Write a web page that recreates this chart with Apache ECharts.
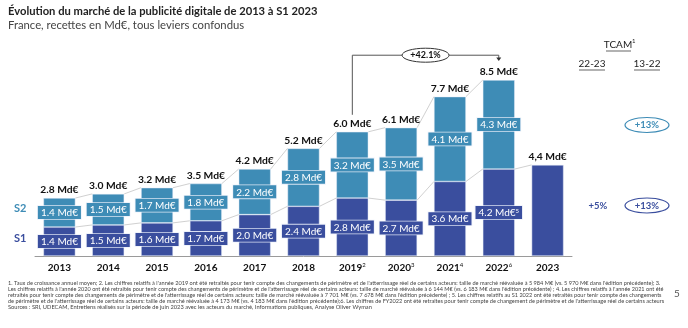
<!DOCTYPE html>
<html><head><meta charset="utf-8">
<script src="https://cdn.jsdelivr.net/npm/echarts@6/dist/echarts.min.js"></script>
<style>html,body{margin:0;padding:0;background:#fff}#c{width:688px;height:328px}</style>
</head><body><div id="c"></div>
<script>
const years = ['2013','2014','2015','2016','2017','2018','2019','2020','2021','2022','2023'];
const yearNotes = ['','','','','','','2','3','4','6',''];
const s1 = [1.4,1.5,1.6,1.7,2.0,2.4,2.8,2.7,3.6,4.2,4.4];
const s2 = [1.4,1.5,1.7,1.8,2.2,2.8,3.2,3.5,4.1,4.3,null];
const s1Labels = ['1.4 Md€','1.5 Md€','1.6 Md€','1.7 Md€','2.0 Md€','2.4 Md€','2.8 Md€','2.7 Md€','3.6 Md€','4.2 Md€',''];
const s1Notes = ['','','','','','','','','','5',''];
const s2Labels = ['1.4 Md€','1.5 Md€','1.7 Md€','1.8 Md€','2.2 Md€','2.8 Md€','3.2 Md€','3.5 Md€','4.1 Md€','4.3 Md€',''];
const totalLabels = ['2.8 Md€','3.0 Md€','3.2 Md€','3.5 Md€','4.2 Md€','5.2 Md€','6.0 Md€','6.1 Md€','7.7 Md€','8.5 Md€','4,4 Md€'];
const growthLabel = '+42.1%';
const growthFrom = 6, growthTo = 9;
const tcamHeaders = ['TCAM', '22-23', '13-22'];
const tcamS2 = ['', '+13%'];
const tcamS1 = ['+5%', '+13%'];

const C1 = '#3A4E9E', C2 = '#3E8CB6';
const FONT = 'Lato, "Liberation Sans", sans-serif';
const footnotes = [
"1. Taux de croissance annuel moyen; 2. Les chiffres relatifs à l'année 2019 ont été retraités pour tenir compte des changements de périmètre et de l'atterrissage réel de certains acteurs: taille de marché réévaluée à 5 984 M€ (vs. 5 970 M€ dans l'édition précédente); 3.",
"Les chiffres relatifs à l'année 2020 ont été retraités pour tenir compte des changements de périmètre et de l'atterrissage réel de certains acteurs: taille de marché réévaluée à 6 144 M€ (vs. 6 183 M€ dans l'édition précédente) ; 4. Les chiffres relatifs à l'année 2021 ont été",
"retraités pour tenir compte des changements de périmètre et de l'atterrissage réel de certains acteurs: taille de marché réévaluée à 7 701 M€ (vs. 7 678 M€ dans l'édition précédente) ; 5. Les chiffres relatifs au S1 2022 ont été retraités pour tenir compte des changements",
"de périmètre et de l'atterrissage réel de certains acteurs: taille de marché réévaluée à 4 173 M€ (vs. 4 183 M€ dans l'édition précédente);6. Les chiffres de FY2022 ont été retraites pour tenir compte de changement de périmètre et de l'atterrissage réel de certains acteurs",
"Sources : SRI, UDECAM, Entretiens réalisés sur la période de juin 2023 avec les acteurs du marché, Informations publiques, Analyse Oliver Wyman"
];
const footnoteWidths = [654, 656, 654, 656, 364];

const tops = years.map((_, i) => (s1[i] || 0) + (s2[i] || 0));
const BARW = 32;

const chart = echarts.init(document.getElementById('c'), null, {renderer: 'canvas'});

const connectorData = years.slice(0, years.length - 1).map((_, i) => [
  i, tops[i], (s2[i + 1] != null && s2[i] != null) ? tops[i + 1] : NaN, s1[i], s1[i + 1]
]);

const labelBox = (c) => ({
  show: true, position: 'inside', color: '#fff', fontSize: 10, fontFamily: FONT,
  backgroundColor: c, borderColor: 'rgba(235,240,250,0.9)', borderWidth: 0.8, padding: [2, 3, 1, 3],
  rich: { s: { fontSize: 6, color: '#fff', verticalAlign: 'top', lineHeight: 10, fontFamily: FONT } }
});

const graphics = [
  {type: 'text', left: 8, top: 6, style: {text: 'Évolution du marché de la publicité digitale de 2013 à S1 2023', font: 'bold 11.2px ' + FONT, fill: '#222'}},
  {type: 'text', left: 8, top: 20, style: {text: 'France, recettes en Md€, tous leviers confondus', font: '11.3px ' + FONT, fill: '#444'}},
  {type: 'text', left: 14, top: 203, style: {text: 'S2', font: 'bold 11px ' + FONT, fill: C2}},
  {type: 'text', left: 14, top: 233, style: {text: 'S1', font: 'bold 11px ' + FONT, fill: C1}},
  {type: 'text', left: 674, top: 289, style: {text: '5', font: '10px ' + FONT, fill: '#555'}}
];
graphics.push({type: 'text', x: 618, y: 45, style: {text: tcamHeaders[0], font: '10px ' + FONT, fill: '#222', align: 'center', verticalAlign: 'middle'}});
graphics.push({type: 'text', x: 632, y: 41, style: {text: '1', font: '6px ' + FONT, fill: '#222', align: 'left', verticalAlign: 'middle'}});
graphics.push({type: 'line', shape: {x1: 606, y1: 51, x2: 631, y2: 51}, style: {stroke: '#222', lineWidth: 0.7}});
[[592, tcamHeaders[1]], [647, tcamHeaders[2]]].forEach(([x, t]) => {
  graphics.push({type: 'text', x: x, y: 64, style: {text: t, font: '10px ' + FONT, fill: '#222', align: 'center', verticalAlign: 'middle'}});
  graphics.push({type: 'line', shape: {x1: x - 13, y1: 70, x2: x + 13, y2: 70}, style: {stroke: '#222', lineWidth: 0.7}});
});
graphics.push({type: 'ellipse', shape: {cx: 647, cy: 125, rx: 22, ry: 7.5}, style: {fill: '#fff', stroke: C2, lineWidth: 1.2}});
graphics.push({type: 'text', x: 647, y: 125, style: {text: tcamS2[1], font: 'bold 9.5px ' + FONT, fill: C2, align: 'center', verticalAlign: 'middle'}});
graphics.push({type: 'text', x: 598, y: 205.5, style: {text: tcamS1[0], font: 'bold 9.5px ' + FONT, fill: C1, align: 'center', verticalAlign: 'middle'}});
graphics.push({type: 'ellipse', shape: {cx: 647, cy: 205.5, rx: 22, ry: 7.5}, style: {fill: '#fff', stroke: C1, lineWidth: 1.2}});
graphics.push({type: 'text', x: 647, y: 205.5, style: {text: tcamS1[1], font: 'bold 9.5px ' + FONT, fill: C1, align: 'center', verticalAlign: 'middle'}});

const mctx = document.createElement('canvas').getContext('2d');
footnotes.forEach((t, k) => {
  mctx.font = '10px ' + FONT;
  const w10 = mctx.measureText(t).width;
  const fs = Math.max(4.5, Math.min(6.5, 10 * footnoteWidths[k] / w10));
  graphics.push({type: 'text', left: 8, top: 280 + k * 6, style: {text: t, font: fs.toFixed(2) + 'px ' + FONT, fill: '#444'}});
});

const option = {
  animation: false,
  textStyle: {fontFamily: FONT},
  grid: {left: 35, right: 116, top: 49, bottom: 72},
  xAxis: {
    type: 'category', data: years,
    axisTick: {show: false},
    axisLine: {lineStyle: {color: '#9a9a9a', width: 1}},
    axisLabel: {
      interval: 0, margin: 6,
      formatter: (v, i) => '{y|' + v + '}' + (yearNotes[i] ? '{s|' + yearNotes[i] + '}' : ''),
      rich: {
        y: {fontSize: 10, fontWeight: 'bold', color: '#111', fontFamily: FONT, lineHeight: 12},
        s: {fontSize: 6, color: '#111', fontFamily: FONT, verticalAlign: 'top', lineHeight: 12}
      }
    }
  },
  yAxis: {type: 'value', min: 0, max: 10, show: false, splitLine: {show: false}},
  graphic: graphics,
  series: [
    {
      type: 'custom', name: 'connectors', z: 1, silent: true,
      data: connectorData,
      renderItem: (params, api) => {
        const i = api.value(0);
        const half = BARW / 2;
        const children = [];
        const pairs = [[api.value(1), api.value(2)], [api.value(3), api.value(4)]];
        pairs.forEach(([a, b]) => {
          if (isNaN(a) || isNaN(b) || a == null || b == null) return;
          const p1 = api.coord([i, a]);
          const p2 = api.coord([i + 1, b]);
          children.push({type: 'line', shape: {x1: p1[0] + half, y1: p1[1], x2: p2[0] - half, y2: p2[1]},
            style: {stroke: '#c4c4c4', lineWidth: 0.8}});
        });
        return {type: 'group', children};
      }
    },
    {
      type: 'bar', name: 'S1', stack: 'a', barWidth: BARW, z: 2,
      itemStyle: {color: C1, borderColor: 'rgba(230,236,248,0.8)', borderWidth: 0.6},
      data: s1.map((v, i) => ({
        value: v,
        label: Object.assign(labelBox(C1), {
          show: s1Labels[i] !== '',
          formatter: s1Labels[i] + (s1Notes[i] ? '{s|' + s1Notes[i] + '}' : '')
        })
      }))
    },
    {
      type: 'bar', name: 'S2', stack: 'a', barWidth: BARW, z: 2,
      itemStyle: {color: C2, borderColor: 'rgba(230,236,248,0.8)', borderWidth: 0.6},
      data: s2.map((v, i) => ({
        value: v,
        label: Object.assign(labelBox(C2), {show: v != null, formatter: s2Labels[i]})
      }))
    },
    {
      type: 'custom', name: 'totals', z: 3, silent: true,
      data: tops.map((t, i) => [i, t]),
      renderItem: (params, api) => {
        const i = api.value(0);
        const p = api.coord([i, api.value(1)]);
        return {type: 'text', x: p[0], y: p[1] - 3,
          style: {text: totalLabels[i], font: 'bold 10.3px ' + FONT, fill: '#111', align: 'center', verticalAlign: 'bottom'}};
      }
    },
    {
      type: 'custom', name: 'growth', z: 3, silent: true,
      data: [[growthFrom, tops[growthFrom], growthTo, tops[growthTo]]],
      renderItem: (params, api) => {
        const a = api.coord([api.value(0), api.value(1)]);
        const b = api.coord([api.value(2), api.value(3)]);
        const yTop = api.coord([0, 9.7])[1];
        const ya = a[1] - 17, yb = b[1] - 19;
        const mx = (a[0] + b[0]) / 2;
        return {type: 'group', children: [
          {type: 'polyline', shape: {points: [[a[0], ya], [a[0], yTop], [b[0], yTop], [b[0], yb - 3]]},
            style: {stroke: '#555', lineWidth: 1, fill: null}},
          {type: 'polygon', shape: {points: [[b[0] - 2.5, yb - 3.5], [b[0] + 2.5, yb - 3.5], [b[0], yb]]}, style: {fill: '#333'}},
          {type: 'ellipse', shape: {cx: mx, cy: yTop, rx: 23.5, ry: 7}, style: {fill: '#fff', stroke: '#333', lineWidth: 1}},
          {type: 'text', x: mx, y: yTop, style: {text: growthLabel, font: 'bold 9px ' + FONT, fill: '#111', align: 'center', verticalAlign: 'middle'}}
        ]};
      }
    }
  ]
};
chart.setOption(option);
</script></body></html>
